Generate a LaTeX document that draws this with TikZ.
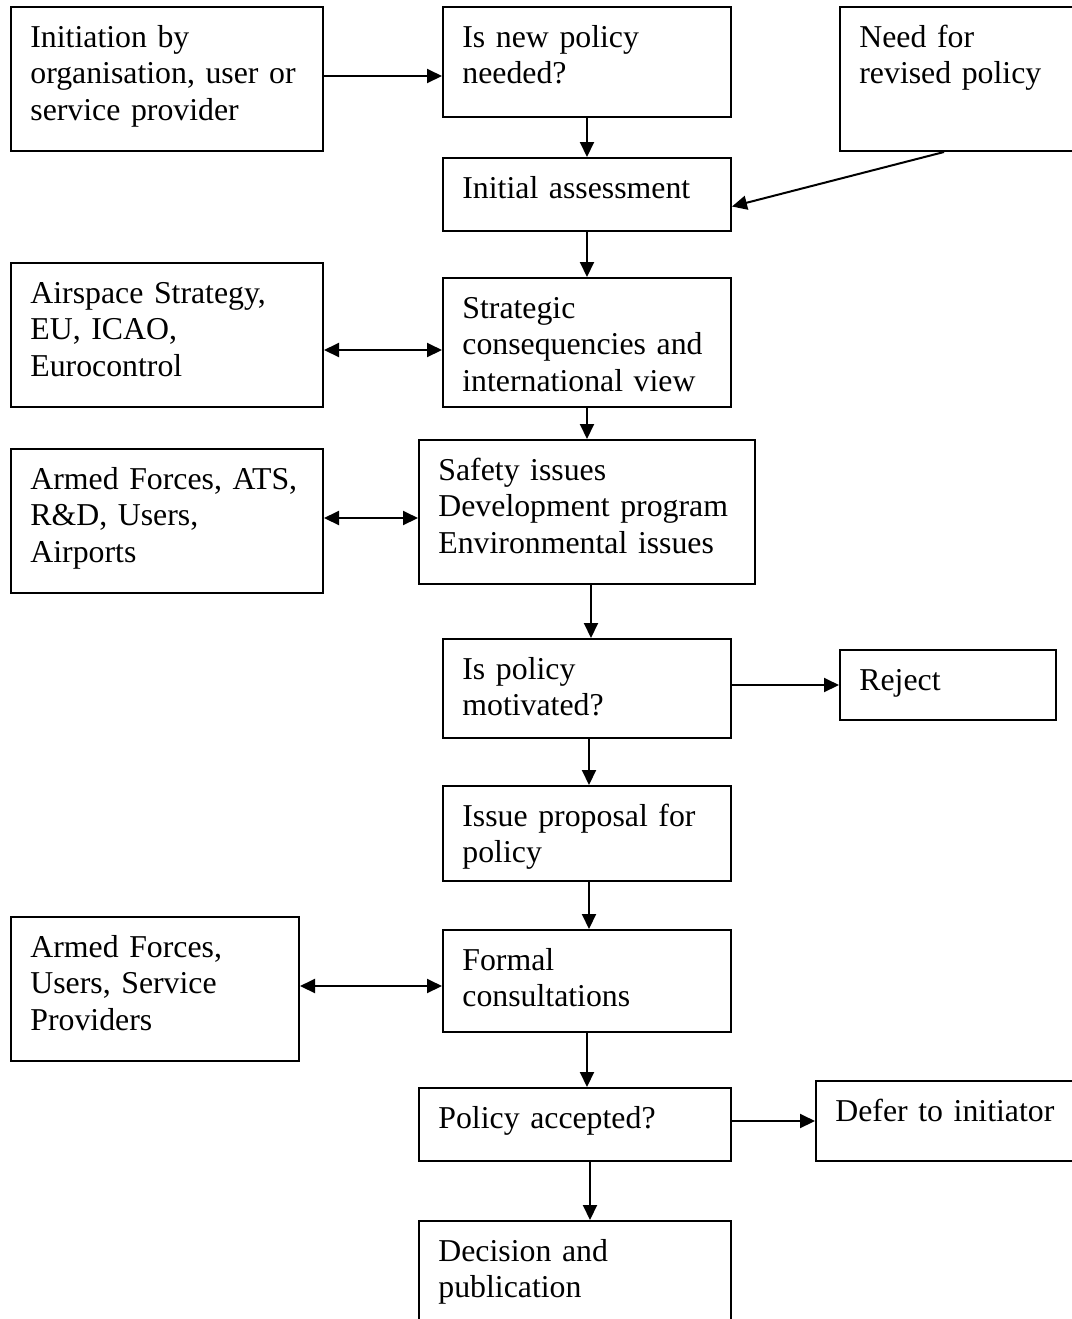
\documentclass[tikz,border=0pt]{standalone}
\usepackage{fontspec}
\setmainfont{Liberation Serif}
\usetikzlibrary{arrows.meta}

\begin{document}
\begin{tikzpicture}[
		x=0.5pt, y=-0.5pt,
		box/.style={draw, line width=1pt, inner sep=0pt, anchor=north west},
		txt/.style={anchor=base west, align=left, text width=170pt, inner sep=0pt,
			xshift=10pt, yshift=-20.5pt, font=\fontsize{15.9}{18.25}\selectfont},
		arr/.style={-{Triangle[length=7.5pt,width=7pt]}, line width=1pt},
		dbl/.style={{Triangle[length=7.5pt,width=7pt]}-{Triangle[length=7.5pt,width=7pt]}, line width=1pt}
		]
		\clip (0,0) rectangle (1072,1319);
		% top row
		\node[box, minimum width=156pt, minimum height=72pt,
			label={[txt]north west:Initiation by\\organisation, user or\\service provider}] (init) at (10,6) {};
		\node[box, minimum width=144pt, minimum height=55pt,
			label={[txt]north west:Is new policy\\needed?}] (isnew) at (442,6) {};
		\node[box, minimum width=130pt, minimum height=72pt,
			label={[txt]north west:Need for\\revised policy}] (revised) at (839,6) {};
		\node[box, minimum width=144pt, minimum height=36.5pt,
			label={[txt]north west:Initial assessment}] (assess) at (442,157) {};
		% consultation chain
		\node[box, minimum width=156pt, minimum height=72pt,
			label={[txt]north west:Airspace Strategy,\\EU, ICAO,\\Eurocontrol}] (airspace) at (10,262) {};
		\node[box, minimum width=144pt, minimum height=64.5pt,
			label={[txt]north west:Strategic\\consequencies and\\international view}] (strategic) at (442,277) {};
		\node[box, minimum width=156pt, minimum height=72pt,
			label={[txt]north west:Armed Forces, ATS,\\R\&D, Users,\\Airports}] (armed) at (10,448) {};
		\node[box, minimum width=168pt, minimum height=72pt,
			label={[txt]north west:Safety issues\\Development program\\Environmental issues}] (safety) at (418,439) {};
		\node[box, minimum width=144pt, minimum height=49.5pt,
			label={[txt]north west:Is policy\\motivated?}] (motivated) at (442,638) {};
		\node[box, minimum width=108pt, minimum height=35pt,
			label={[txt]north west:Reject}] (reject) at (839,649) {};
		\node[box, minimum width=144pt, minimum height=47.5pt,
			label={[txt]north west:Issue proposal for\\policy}] (proposal) at (442,785) {};
		\node[box, minimum width=144pt, minimum height=72pt,
			label={[txt]north west:Armed Forces,\\Users, Service\\Providers}] (armed2) at (10,916) {};
		\node[box, minimum width=144pt, minimum height=51pt,
			label={[txt]north west:Formal\\consultations}] (formal) at (442,929) {};
		\node[box, minimum width=156pt, minimum height=36.5pt,
			label={[txt]north west:Policy accepted?}] (accepted) at (418,1087) {};
		\node[box, minimum width=140pt, minimum height=40pt,
			label={[txt]north west:Defer to initiator}] (defer) at (815,1080) {};
		\node[box, minimum width=156pt, minimum height=60pt,
			label={[txt]north west:Decision and\\publication}] (decision) at (418,1220) {};
		% connectors
		\draw[arr] (init.east |- 0,76) -- (isnew.west |- 0,76);
		\draw[arr] (isnew) -- (assess);
		\draw[arr] ([xshift=52.5pt]revised.south west) -- ([yshift=-6pt]assess.east);
		\draw[arr] (assess) -- (strategic);
		\draw[dbl] ([yshift=-7.5pt]airspace.east) -- ([yshift=-7.5pt]airspace.east -| strategic.west);
		\draw[arr] (strategic) -- (safety);
		\draw[dbl] ([yshift=-3pt]armed.east |- safety.west) -- ([yshift=-3pt]safety.west);
		\draw[arr] ([xshift=2pt]safety.south) -- ([xshift=2pt]motivated.north);
		\draw[arr] (motivated.east |- reject.west) -- (reject.west);
		\draw[arr] ([xshift=1pt]motivated.south) -- ([xshift=1pt]proposal.north);
		\draw[arr] ([xshift=1pt]proposal.south) -- ([xshift=1pt]formal.north);
		\draw[dbl] ([yshift=-2.5pt]armed2.east |- formal.west) -- ([yshift=-2.5pt]formal.west);
		\draw[arr] (formal.south) -- (accepted.north -| formal.south);
		\draw[arr] (accepted.east |- defer.west) -- (defer.west);
		\draw[arr] ([xshift=7.5pt]accepted.south) -- ([xshift=7.5pt]decision.north);
\end{tikzpicture}
\end{document}
